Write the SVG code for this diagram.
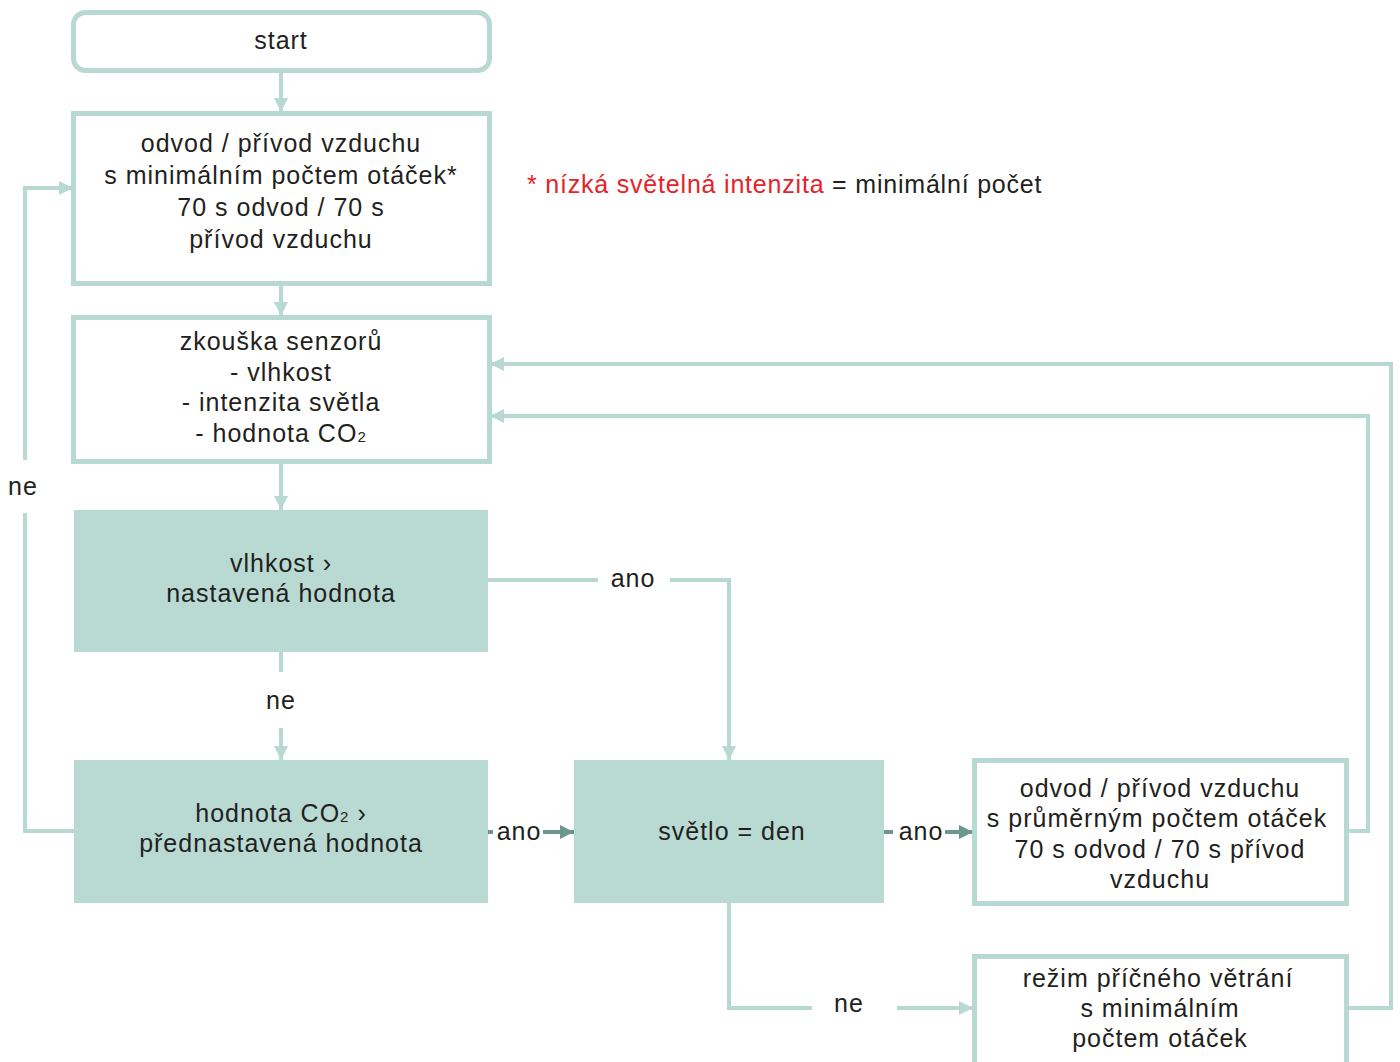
<svg xmlns="http://www.w3.org/2000/svg" width="1400" height="1062" viewBox="0 0 1400 1062">
<style>
.box{fill:#ffffff;stroke:#b7d9d2;stroke-width:5}
.fill{fill:#b8dad3;stroke:none}
.t{font-family:"Liberation Sans",Arial,sans-serif;font-size:25px;letter-spacing:1px;fill:#231f20;text-anchor:middle}
.c{fill:none;stroke:#b7d9d2;stroke-width:4}
.d{fill:none;stroke:#6b978e;stroke-width:4}
.sub{font-size:15px}
</style>
<defs>
<marker id="a" viewBox="0 0 14 14" markerWidth="14" markerHeight="14" refX="14" refY="7" orient="auto" markerUnits="userSpaceOnUse"><path d="M0,0 L14,7 L0,14 z" fill="#b7d9d2"/></marker>
<marker id="ad" viewBox="0 0 14 14" markerWidth="14" markerHeight="14" refX="14" refY="7" orient="auto" markerUnits="userSpaceOnUse"><path d="M0,0 L14,7 L0,14 z" fill="#6b978e"/></marker>
</defs>
<g id="connectors">
<path class="c" d="M281,71 V112" marker-end="url(#a)"/>
<path class="c" d="M281,284 V316" marker-end="url(#a)"/>
<path class="c" d="M281,462 V510" marker-end="url(#a)"/>
<path class="c" d="M281,652 V672"/>
<path class="c" d="M281,728 V760" marker-end="url(#a)"/>
<text class="t" x="281" y="709">ne</text>
<path class="c" d="M74,831 H25 V513"/>
<path class="c" d="M25,460 V188 H73" marker-end="url(#a)"/>
<text class="t" x="23" y="495">ne</text>
<path class="c" d="M488,580 H598"/>
<path class="c" d="M670,580 H729 V760" marker-end="url(#a)"/>
<text class="t" x="633" y="587">ano</text>
<path class="d" d="M487,832 H493"/>
<path class="d" d="M543,832 H574" marker-end="url(#ad)"/>
<text class="t" x="519" y="840">ano</text>
<path class="d" d="M884,832 H893"/>
<path class="d" d="M945,832 H973" marker-end="url(#ad)"/>
<text class="t" x="921" y="840">ano</text>
<path class="c" d="M729,903 V1008 H812"/>
<path class="c" d="M897,1008 H973" marker-end="url(#a)"/>
<text class="t" x="849" y="1012">ne</text>
<path class="c" d="M1348,831 H1368 V416 H490" marker-end="url(#a)"/>
<path class="c" d="M1348,1008 H1391 V364 H490" marker-end="url(#a)"/>
</g>
<g id="start">
<rect class="box" x="73.5" y="12.5" width="416" height="58" rx="12"/>
<text class="t" x="281" y="49">start</text>
</g>
<g id="minimal">
<rect class="box" x="73.5" y="113.5" width="416" height="170"/>
<text class="t" x="281" y="152">odvod / přívod vzduchu</text>
<text class="t" x="281" y="184">s minimálním počtem otáček*</text>
<text class="t" x="281" y="216">70 s odvod / 70 s</text>
<text class="t" x="281" y="248">přívod vzduchu</text>
</g>
<g id="note">
<text x="527" y="193" style="font-family:'Liberation Sans',Arial,sans-serif;font-size:25px;letter-spacing:0.8px"><tspan fill="#e52329">* nízká světelná intenzita</tspan><tspan fill="#231f20"> = minimální počet</tspan></text>
</g>
<g id="sensors">
<rect class="box" x="73.5" y="317.5" width="416" height="144"/>
<text class="t" x="281" y="350">zkouška senzorů</text>
<text class="t" x="281" y="381">- vlhkost</text>
<text class="t" x="281" y="411">- intenzita světla</text>
<text class="t" x="281" y="442">- hodnota CO<tspan class="sub">2</tspan></text>
</g>
<g id="humidity">
<rect class="fill" x="74" y="510" width="414" height="142"/>
<text class="t" x="281" y="572">vlhkost ›</text>
<text class="t" x="281" y="602">nastavená hodnota</text>
</g>
<g id="co2">
<rect class="fill" x="74" y="760" width="414" height="143"/>
<text class="t" x="281" y="822">hodnota CO<tspan class="sub">2</tspan> ›</text>
<text class="t" x="281" y="852">přednastavená hodnota</text>
</g>
<g id="light">
<rect class="fill" x="574" y="760" width="310" height="143"/>
<text class="t" x="732" y="840">světlo = den</text>
</g>
<g id="average">
<rect class="box" x="974.5" y="760.5" width="372" height="143"/>
<text class="t" x="1160" y="797">odvod / přívod vzduchu</text>
<text class="t" x="1157" y="827">s průměrným počtem otáček</text>
<text class="t" x="1160" y="858">70 s odvod / 70 s přívod</text>
<text class="t" x="1160" y="888">vzduchu</text>
</g>
<g id="cross">
<rect class="box" x="974.5" y="956.5" width="372" height="120"/>
<text class="t" x="1158" y="987">režim příčného větrání</text>
<text class="t" x="1160" y="1017">s minimálním</text>
<text class="t" x="1160" y="1047">počtem otáček</text>
</g>
</svg>
